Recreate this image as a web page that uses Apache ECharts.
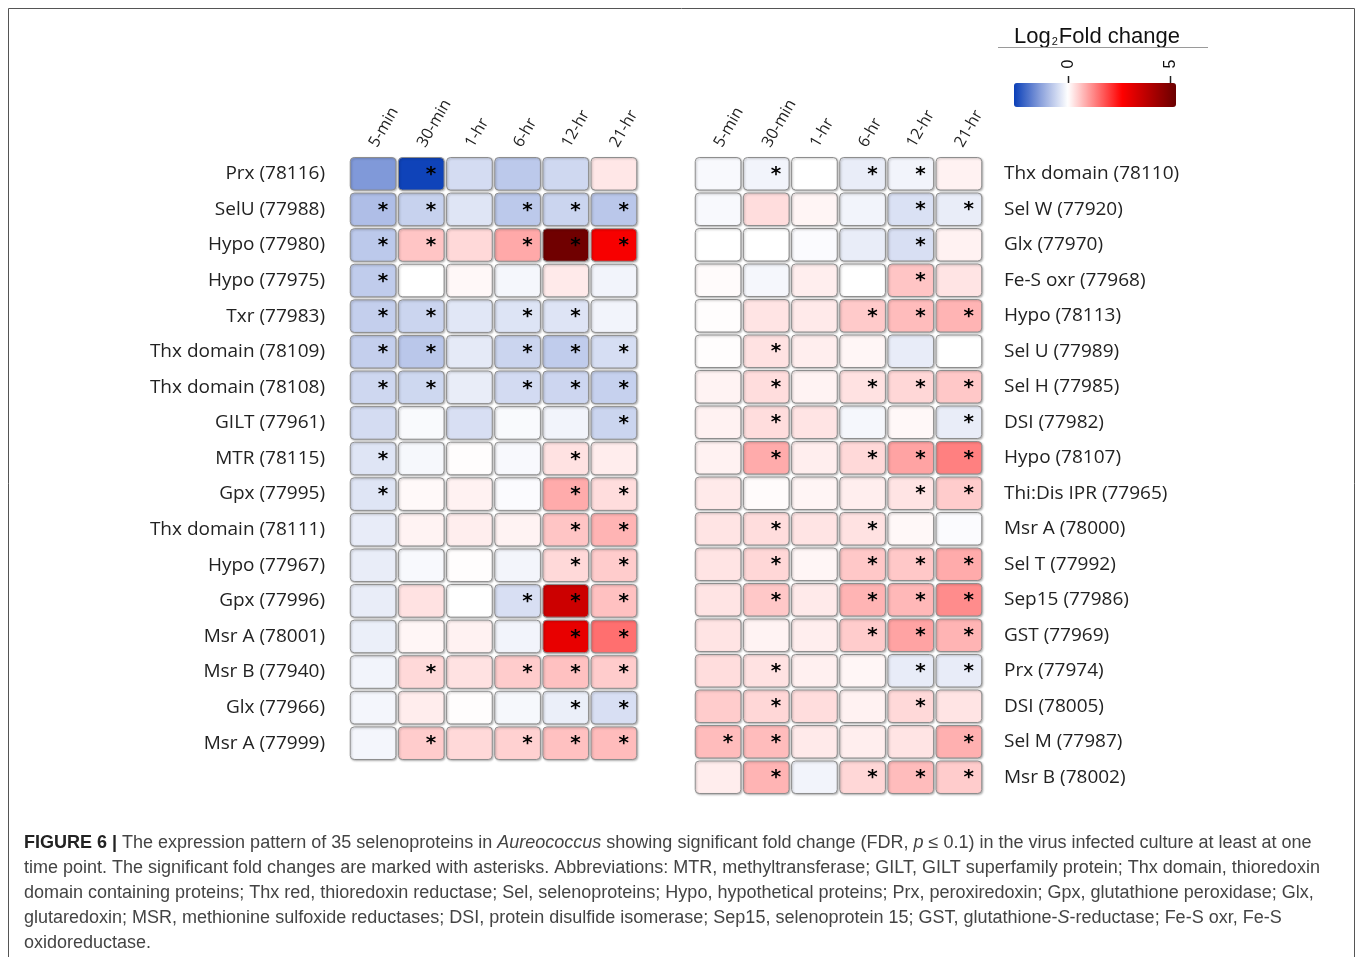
<!DOCTYPE html>
<html>
<head>
<meta charset="utf-8">
<script src="https://cdn.jsdelivr.net/npm/echarts@6/dist/echarts.min.js"></script>
<style>
html,body{margin:0;padding:0;background:#fff;}
#chart{width:1357px;height:957px;}
</style>
</head>
<body>
<div id="chart"></div>
<script>
// ---------------- DATA ----------------
const timeLabels = ['5-min', '30-min', '1-hr', '6-hr', '12-hr', '21-hr'];

const leftGenes = ['Prx (78116)', 'SelU (77988)', 'Hypo (77980)', 'Hypo (77975)', 'Txr (77983)',
  'Thx domain (78109)', 'Thx domain (78108)', 'GILT (77961)', 'MTR (78115)', 'Gpx (77995)',
  'Thx domain (78111)', 'Hypo (77967)', 'Gpx (77996)', 'Msr A (78001)', 'Msr B (77940)',
  'Glx (77966)', 'Msr A (77999)'];

const leftLogFC = [
  [-1.45, -2.60, -0.50, -0.77, -0.55, 0.25],
  [-0.92, -0.64, -0.37, -0.77, -0.60, -0.80],
  [-0.77, 0.60, 0.40, 0.90, 5.20, 2.80],
  [-0.73, 0.00, 0.07, -0.12, 0.22, -0.15],
  [-0.68, -0.60, -0.34, -0.39, -0.38, -0.15],
  [-0.68, -0.80, -0.30, -0.60, -0.73, -0.47],
  [-0.57, -0.56, -0.25, -0.51, -0.58, -0.66],
  [-0.50, -0.07, -0.45, -0.07, -0.15, -0.60],
  [-0.37, -0.10, 0.02, -0.08, 0.30, 0.19],
  [-0.37, 0.06, 0.14, -0.05, 0.88, 0.35],
  [-0.27, 0.13, 0.18, 0.13, 0.60, 0.78],
  [-0.25, -0.08, 0.02, -0.14, 0.40, 0.53],
  [-0.25, 0.30, 0.00, -0.45, 3.55, 0.65],
  [-0.23, 0.09, 0.14, -0.15, 3.06, 1.50],
  [-0.15, 0.40, 0.30, 0.53, 0.65, 0.53],
  [-0.13, 0.19, 0.02, -0.10, -0.23, -0.45],
  [-0.13, 0.53, 0.40, 0.48, 0.65, 0.70]
];

const leftSig = [
  [0, 1, 0, 0, 0, 0],
  [1, 1, 0, 1, 1, 1],
  [1, 1, 0, 1, 1, 1],
  [1, 0, 0, 0, 0, 0],
  [1, 1, 0, 1, 1, 0],
  [1, 1, 0, 1, 1, 1],
  [1, 1, 0, 1, 1, 1],
  [0, 0, 0, 0, 0, 1],
  [1, 0, 0, 0, 1, 0],
  [1, 0, 0, 0, 1, 1],
  [0, 0, 0, 0, 1, 1],
  [0, 0, 0, 0, 1, 1],
  [0, 0, 0, 1, 1, 1],
  [0, 0, 0, 0, 1, 1],
  [0, 1, 0, 1, 1, 1],
  [0, 0, 0, 0, 1, 1],
  [0, 1, 0, 1, 1, 1]
];

const rightGenes = ['Thx domain (78110)', 'Sel W (77920)', 'Glx (77970)', 'Fe-S oxr (77968)',
  'Hypo (78113)', 'Sel U (77989)', 'Sel H (77985)', 'DSI (77982)', 'Hypo (78107)',
  'Thi:Dis IPR (77965)', 'Msr A (78000)', 'Sel T (77992)', 'Sep15 (77986)', 'GST (77969)',
  'Prx (77974)', 'DSI (78005)', 'Sel M (77987)', 'Msr B (78002)'];

const rightLogFC = [
  [-0.08, -0.15, 0.00, -0.25, -0.15, 0.14],
  [-0.08, 0.35, 0.10, -0.15, -0.43, -0.25],
  [0.00, 0.00, -0.05, -0.25, -0.45, 0.14],
  [0.04, -0.12, 0.18, 0.00, 0.60, 0.28],
  [0.02, 0.28, 0.22, 0.55, 0.70, 0.78],
  [0.02, 0.30, 0.18, 0.09, -0.27, 0.00],
  [0.13, 0.35, 0.13, 0.30, 0.42, 0.57],
  [0.14, 0.35, 0.28, -0.12, 0.07, -0.25],
  [0.14, 0.88, 0.18, 0.40, 0.96, 1.32],
  [0.22, 0.04, 0.10, 0.18, 0.28, 0.53],
  [0.28, 0.35, 0.28, 0.30, 0.07, -0.05],
  [0.28, 0.42, 0.09, 0.57, 0.57, 0.88],
  [0.28, 0.57, 0.22, 0.78, 0.74, 1.20],
  [0.28, 0.13, 0.18, 0.53, 0.96, 0.78],
  [0.35, 0.30, 0.16, 0.09, -0.27, -0.27],
  [0.53, 0.42, 0.35, 0.14, 0.40, 0.28],
  [0.70, 0.70, 0.22, 0.18, 0.28, 0.82],
  [0.19, 0.78, -0.15, 0.42, 0.70, 0.53]
];

const rightSig = [
  [0, 1, 0, 1, 1, 0],
  [0, 0, 0, 0, 1, 1],
  [0, 0, 0, 0, 1, 0],
  [0, 0, 0, 0, 1, 0],
  [0, 0, 0, 1, 1, 1],
  [0, 1, 0, 0, 0, 0],
  [0, 1, 0, 1, 1, 1],
  [0, 1, 0, 0, 0, 1],
  [0, 1, 0, 1, 1, 1],
  [0, 0, 0, 0, 1, 1],
  [0, 1, 0, 1, 0, 0],
  [0, 1, 0, 1, 1, 1],
  [0, 1, 0, 1, 1, 1],
  [0, 0, 0, 1, 1, 1],
  [0, 1, 0, 0, 1, 1],
  [0, 1, 0, 0, 1, 0],
  [1, 1, 0, 0, 0, 1],
  [0, 1, 0, 1, 1, 1]
];

const legendTicks = [0, 5];

// ---------------- STYLE / LAYOUT ----------------
const VM_MIN = -2.65, VM_MAX = 5.3;
const COLORS = ['#0a3fb8', '#8ca2dc', '#ffffff', '#ff8080', '#ff0000', '#b40000', '#6a0000'];
const LEG = {left: 1014, top: 83, len: 162, thick: 24};
const LABEL_FONT = '"Open Sans", "Noto Sans", sans-serif';

function toData(vals, sig) {
  const out = [];
  vals.forEach((row, i) => row.forEach((v, j) => out.push([j, i, v, sig[i][j]])));
  return out;
}

function renderCell(params, api) {
  const c = api.coord([api.value(0), api.value(1)]);
  const s = api.size([1, 1]);
  const w = s[0] - 2.5, h = s[1] - 3;
  const children = [{
    type: 'rect',
    shape: {x: c[0] - w / 2, y: c[1] - h / 2, width: w, height: h, r: 4},
    style: {fill: api.visual('color'), stroke: '#8e8e8e', lineWidth: 1,
      shadowBlur: 2, shadowOffsetX: 1, shadowOffsetY: 1, shadowColor: 'rgba(0,0,0,0.25)'}
  }];
  if (api.value(3) === 1) {
    children.push({
      type: 'text',
      style: {text: '*', x: c[0] + w / 2 - 13, y: c[1] + 1, font: 'bold 20px "DejaVu Sans"',
        fill: '#000', align: 'center', verticalAlign: 'middle'}
    });
  }
  return {type: 'group', children: children};
}

const chart = echarts.init(document.getElementById('chart'), null, {renderer: 'canvas'});

const xAxisCommon = {
  type: 'category', data: timeLabels, position: 'top',
  axisLine: {show: false}, axisTick: {show: false}, splitLine: {show: false},
  axisLabel: {rotate: -60, fontSize: 16, color: '#222', margin: 10, fontFamily: LABEL_FONT}
};
const yAxisCommon = {
  type: 'category', inverse: true,
  axisLine: {show: false}, axisTick: {show: false}, splitLine: {show: false}
};

function legX(v) { return LEG.left + (v - VM_MIN) / (VM_MAX - VM_MIN) * LEG.len; }

const graphics = [
  {type: 'rect', shape: {x: 8.5, y: 8.5, width: 1346, height: 980}, style: {fill: 'none', stroke: '#555', lineWidth: 1}, silent: true},
  {type: 'text', style: {x: 1097, y: 37, align: 'center', verticalAlign: 'middle',
    text: '{a|Log}{s|2}{a|Fold change}',
    rich: {a: {fontSize: 22, fontFamily: '"Liberation Sans", Arial, sans-serif', fill: '#111'},
           s: {fontSize: 11, fontFamily: '"Liberation Sans", Arial, sans-serif', fill: '#111', padding: [10, 1, 0, 1]}}}},
  {type: 'line', shape: {x1: 998, y1: 47.5, x2: 1208, y2: 47.5}, style: {stroke: '#9a9a9a', lineWidth: 1.2}}
];
legendTicks.forEach(t => {
  const x = Math.round(legX(t)) + 0.5;
  graphics.push({type: 'line', shape: {x1: x, y1: 76, x2: x, y2: LEG.top}, style: {stroke: '#222', lineWidth: 1.5}});
  graphics.push({type: 'text', rotation: Math.PI / 2, x: x, y: 64,
    style: {text: String(t), x: 0, y: 0, align: 'center', verticalAlign: 'middle', fontSize: 16,
      fontFamily: '"Liberation Sans", Arial, sans-serif', fill: '#111'}});
});

const capFont = '"Liberation Sans", Arial, sans-serif';
const CAP_SIZE = 18;
const capRich = {
  b: {fontWeight: 'bold', fontSize: CAP_SIZE, fontFamily: capFont, fill: '#222'},
  n: {fontSize: CAP_SIZE, fontFamily: capFont, fill: '#444'},
  i: {fontStyle: 'italic', fontSize: CAP_SIZE, fontFamily: capFont, fill: '#444'}
};
const captionLines = [
  '{b|FIGURE 6 |}{n| The expression pattern of 35 selenoproteins in }{i|Aureococcus}{n| showing significant fold change (FDR, }{i|p}{n| ≤ 0.1) in the virus infected culture at least at one}',
  '{n|time point. The significant fold changes are marked with asterisks. Abbreviations: MTR, methyltransferase; GILT, GILT superfamily protein; Thx domain, thioredoxin}',
  '{n|domain containing proteins; Thx red, thioredoxin reductase; Sel, selenoproteins; Hypo, hypothetical proteins; Prx, peroxiredoxin; Gpx, glutathione peroxidase; Glx,}',
  '{n|glutaredoxin; MSR, methionine sulfoxide reductases; DSI, protein disulfide isomerase; Sep15, selenoprotein 15; GST, glutathione-}{i|S}{n|-reductase; Fe-S oxr, Fe-S}',
  '{n|oxidoreductase.}'
];
captionLines.forEach((ln, k) => {
  graphics.push({type: 'text', style: {x: 24, y: 843 + k * 25, verticalAlign: 'middle', text: ln, rich: capRich}});
});

const option = {
  backgroundColor: '#fff',
  animation: false,
  grid: [
    {left: 349, top: 156, width: 289, height: 605},
    {left: 694, top: 156, width: 289, height: 639}
  ],
  xAxis: [
    Object.assign({gridIndex: 0}, xAxisCommon),
    Object.assign({gridIndex: 1}, xAxisCommon)
  ],
  yAxis: [
    Object.assign({gridIndex: 0, data: leftGenes, position: 'left',
      axisLabel: {fontSize: 19, color: '#222', margin: 24, fontFamily: LABEL_FONT}}, yAxisCommon),
    Object.assign({gridIndex: 1, data: rightGenes, position: 'right',
      axisLabel: {fontSize: 19, color: '#222', margin: 21, fontFamily: LABEL_FONT}}, yAxisCommon)
  ],
  visualMap: {
    type: 'continuous', min: VM_MIN, max: VM_MAX, dimension: 2, seriesIndex: [0, 1],
    orient: 'horizontal', left: LEG.left, top: LEG.top, itemWidth: LEG.thick, itemHeight: LEG.len,
    calculable: false, hoverLink: false, text: null, padding: 0,
    inRange: {color: COLORS}
  },
  series: [
    {type: 'custom', xAxisIndex: 0, yAxisIndex: 0, renderItem: renderCell,
      encode: {x: 0, y: 1}, data: toData(leftLogFC, leftSig)},
    {type: 'custom', xAxisIndex: 1, yAxisIndex: 1, renderItem: renderCell,
      encode: {x: 0, y: 1}, data: toData(rightLogFC, rightSig)}
  ],
  graphic: graphics
};
chart.setOption(option);
</script>
</body>
</html>
